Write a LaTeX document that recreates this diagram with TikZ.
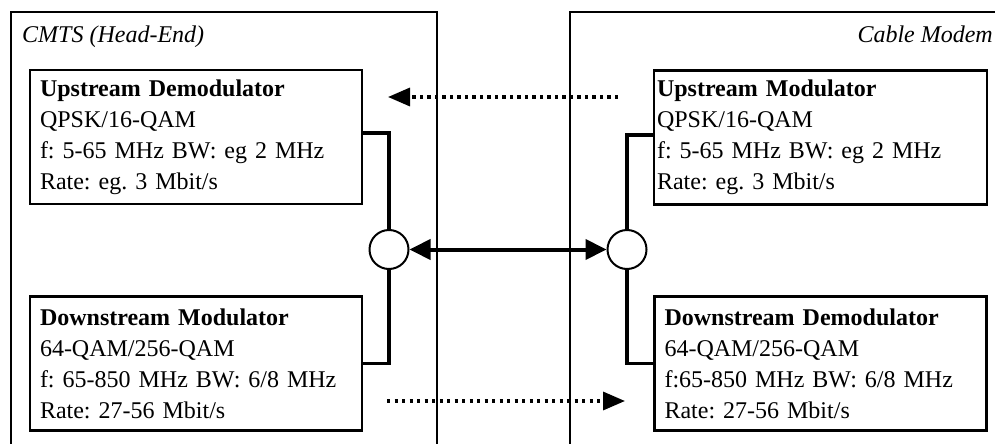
\documentclass[tikz,border=0pt]{standalone}
\usepackage{fontspec}
\setmainfont{Liberation Serif}
\usetikzlibrary{arrows.meta}
\frenchspacing
\begin{document}
\begin{tikzpicture}[x=1pt,y=-1pt,
  outer/.style={line width=1.6pt},
  modbox/.style={draw,line width=2.2pt,minimum width=332pt,minimum height=134pt,
    text width=312pt,inner xsep=10pt,inner ysep=0pt,align=left,
    font=\frenchspacing\fontsize{24}{31}\selectfont},
  junction/.style={draw,circle,line width=2pt,minimum size=39pt,inner sep=0pt,fill=white},
  conn/.style={line width=3.2pt},
  dbl/.style={line width=4pt,{Triangle[length=21pt,width=20pt]}-{Triangle[length=21pt,width=20pt]}},
  dotarrow/.style={line width=3.4pt,dash pattern=on 3.2pt off 4.3pt,-{Triangle[length=22pt,width=18pt]}},
  title/.style={inner sep=0pt,font=\itshape\fontsize{24}{29}\selectfont}]
\useasboundingbox (0,0) rectangle (995,444);
\clip (0,0) rectangle (995,444);
% outer frames
\draw[outer] (11,470) -- (11,12) -- (437,12) -- (437,470);
\draw[outer] (570,470) -- (570,12) -- (1010,12);
\node[title,anchor=base west] (t1) at (22,42) {CMTS (Head-End)};
\node[title,anchor=base east] (t2) at (993,42) {Cable Modem};
% boxes
\node[modbox] (ud) at (196,137) {\textbf{Upstream Demodulator}\\QPSK/16-QAM\\f: 5-65 MHz BW: eg 2 MHz\\Rate: eg. 3 Mbit/s};
\node[modbox] (dm) at (196,363.5) {\textbf{Downstream Modulator}\\64-QAM/256-QAM\\f: 65-850 MHz BW: 6/8 MHz\\Rate: 27-56 Mbit/s};
\node[modbox,inner xsep=3pt,text width=327pt] (um) at (820.5,137.5) {\textbf{Upstream Modulator}\\QPSK/16-QAM\\f: 5-65 MHz BW: eg 2 MHz\\Rate: eg. 3 Mbit/s};
\node[modbox] (dd) at (820.5,363.5) {\textbf{Downstream Demodulator}\\64-QAM/256-QAM\\f:65-850 MHz BW: 6/8 MHz\\Rate: 27-56 Mbit/s};
% junctions
\node[junction] (lc) at (389,249.5) {};
\node[junction] (rc) at (627,249.5) {};
% connectors
\draw[conn] ([yshift=4pt]ud.east) -| (lc.north);
\draw[conn] (dm.east) -| (lc.south);
\draw[conn] ([yshift=2.5pt]um.west) -| (rc.north);
\draw[conn] (dd.west) -| (rc.south);
\draw[dbl] (lc.east) -- (rc.west);
% dotted signal arrows
\coordinate (us) at (618,97);
\coordinate (ue) at (388,97);
\coordinate (ds) at (387,401);
\coordinate (de) at (625,401);
\draw[dotarrow] (us) -- (ue);
\draw[dotarrow] (ds) -- (de);
\end{tikzpicture}
\end{document}
